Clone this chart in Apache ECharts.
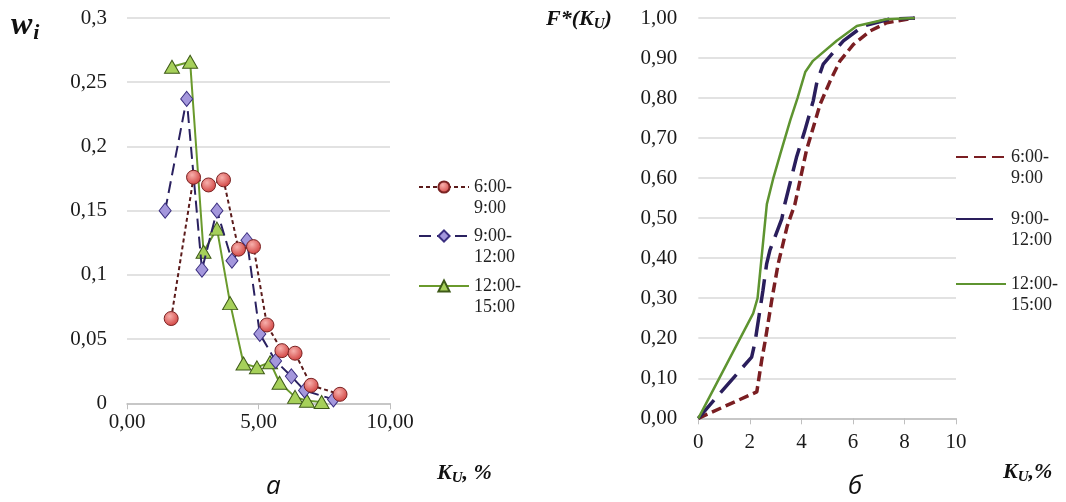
<!DOCTYPE html>
<html><head><meta charset="utf-8">
<script src="https://cdn.jsdelivr.net/npm/echarts@6/dist/echarts.min.js"></script>
<style>html,body{margin:0;padding:0;background:#fff}#c{width:1066px;height:502px}</style>
</head><body><div id="c"></div>
<script>
// ---- Data: left chart (relative frequencies w_i vs K_U, %) ----
const seriesNames = ['6:00-9:00', '9:00-12:00', '12:00-15:00'];
const legendLabels = ['6:00-\n9:00', '9:00-\n12:00', '12:00-\n15:00'];

const leftX_6_9 = [1.68, 2.53, 3.10, 3.67, 4.24, 4.81, 5.32, 5.89, 6.39, 7.00, 8.10];
const leftY_6_9 = [0.066, 0.176, 0.170, 0.174, 0.120, 0.122, 0.061, 0.041, 0.039, 0.014, 0.007];

const leftX_9_12 = [1.45, 2.27, 2.85, 3.42, 3.99, 4.56, 5.05, 5.65, 6.25, 6.75, 7.85];
const leftY_9_12 = [0.150, 0.237, 0.104, 0.150, 0.111, 0.127, 0.054, 0.033, 0.021, 0.010, 0.003];

const leftX_12_15 = [1.71, 2.40, 2.91, 3.42, 3.92, 4.43, 4.94, 5.44, 5.80, 6.39, 6.84, 7.40];
const leftY_12_15 = [0.262, 0.266, 0.118, 0.136, 0.078, 0.031, 0.028, 0.032, 0.016, 0.005, 0.002, 0.001];

// ---- Data: right chart (cumulative F*(K_U)) ----
const rightX_6_9 = [0, 2.27, 2.46, 2.60, 2.85, 3.10, 3.45, 3.75, 4.20, 4.73, 5.12, 5.50, 6.02, 6.68, 7.31, 8.40];
const rightY_6_9 = [0, 0.066, 0.145, 0.195, 0.295, 0.386, 0.480, 0.535, 0.670, 0.785, 0.843, 0.893, 0.934, 0.968, 0.988, 1.000];

const rightX_9_12 = [0, 0.78, 2.07, 2.20, 2.51, 2.65, 2.78, 3.24, 3.36, 3.81, 4.13, 4.46, 4.60, 4.85, 5.63, 6.40, 7.40, 8.40];
const rightY_9_12 = [0, 0.058, 0.153, 0.190, 0.320, 0.385, 0.420, 0.498, 0.536, 0.652, 0.718, 0.793, 0.839, 0.885, 0.943, 0.980, 0.997, 1.000];

const rightX_12_15 = [0, 2.13, 2.30, 2.66, 2.92, 3.18, 3.57, 3.85, 4.15, 4.45, 5.37, 6.15, 7.30, 8.40];
const rightY_12_15 = [0, 0.262, 0.300, 0.535, 0.602, 0.660, 0.745, 0.800, 0.865, 0.893, 0.943, 0.980, 0.997, 1.000];

// ---- Tick settings ----
const leftXTicks = {min: 0, max: 10, interval: 5};
const leftYTicks = {min: 0, max: 0.3, interval: 0.05};
const rightXTicks = {min: 0, max: 10, interval: 2};
const rightYTicks = {min: 0, max: 1, interval: 0.1};

function zip(xs, ys) { return xs.map((x, i) => [x, ys[i]]); }
const serif = 'Liberation Serif';
const comma = s => String(s).replace('.', ',');

const chart = echarts.init(document.getElementById('c'), null, {renderer: 'canvas'});

const labelStyle = {fontFamily: serif, fontSize: 21, color: '#1a1a1a'};
const gridColor = '#d9d9d9';
const axisColor = '#bfbfbf';

function legendAt(name, left, centerY, w, hideSymbol, dash) {
  const lg = {
    data: [name], left: left, top: centerY - 31.5, padding: 0,
    itemWidth: w, itemHeight: 14, itemGap: 0, orient: 'vertical', selectedMode: false,
    // leading empty line keeps the first text line level with the icon
    formatter: n => '\n' + legendLabels[seriesNames.indexOf(n.replace(/^R /, ''))],
    textStyle: {fontFamily: serif, fontSize: 18, lineHeight: 21, color: '#222'}
  };
  if (hideSymbol) lg.itemStyle = {opacity: 0};
  if (dash) lg.lineStyle = {type: dash};
  return lg;
}

const redFill = {type: 'radial', x: 0.4, y: 0.35, r: 0.7,
  colorStops: [{offset: 0, color: '#f7b0ac'}, {offset: 1, color: '#cf3c3a'}]};

const titleRich = {
  m: {fontFamily: serif, fontSize: 22, fontWeight: 'bold', fontStyle: 'italic', fill: '#111'},
  s: {fontFamily: serif, fontSize: 15, fontWeight: 'bold', fontStyle: 'italic', fill: '#111', padding: [10, 0, 0, 0]}
};

chart.setOption({
  animation: false,
  backgroundColor: '#fff',
  textStyle: {fontFamily: serif},
  grid: [
    {left: 127, top: 18, width: 263, height: 385.3},
    {left: 698.3, top: 18, width: 257.7, height: 400.3}
  ],
  xAxis: [
    {type: 'value', gridIndex: 0, ...leftXTicks,
     axisLine: {lineStyle: {color: axisColor, width: 1.5}},
     axisTick: {show: true, length: 6, lineStyle: {color: axisColor}},
     splitLine: {show: false},
     axisLabel: {...labelStyle, margin: 9, formatter: v => comma(v.toFixed(2))}},
    {type: 'value', gridIndex: 1, ...rightXTicks,
     axisLine: {lineStyle: {color: axisColor, width: 1.5}},
     axisTick: {show: true, length: 6, lineStyle: {color: axisColor}},
     splitLine: {show: false},
     axisLabel: {...labelStyle, margin: 14, formatter: v => String(v)}}
  ],
  yAxis: [
    {type: 'value', gridIndex: 0, ...leftYTicks,
     axisLine: {show: false}, axisTick: {show: false},
     splitLine: {lineStyle: {color: gridColor, width: 1.5}},
     axisLabel: {...labelStyle, margin: 20, formatter: v => comma(+v.toFixed(2))}},
    {type: 'value', gridIndex: 1, ...rightYTicks,
     axisLine: {show: false}, axisTick: {show: false},
     splitLine: {lineStyle: {color: gridColor, width: 1.5}},
     axisLabel: {...labelStyle, margin: 21, formatter: v => comma(v.toFixed(2))}}
  ],
  legend: [
    legendAt(seriesNames[0], 418, 187, 50, false),
    legendAt(seriesNames[1], 418, 236, 50, false),
    legendAt(seriesNames[2], 418, 286, 50, false),
    legendAt('R ' + seriesNames[0], 955, 157, 50, true, [12, 6]),
    legendAt('R ' + seriesNames[1], 955, 219, 50, true, [37, 20]),
    legendAt('R ' + seriesNames[2], 955, 284, 50, true)
  ],
  series: [
    {name: seriesNames[2], type: 'line', xAxisIndex: 0, yAxisIndex: 0,
     data: zip(leftX_12_15, leftY_12_15), symbol: 'triangle', symbolSize: [15, 13],
     lineStyle: {color: '#6a9a2c', width: 2},
     itemStyle: {color: '#a6d05a', borderColor: '#3e5a18', borderWidth: 1}, z: 2},
    {name: seriesNames[1], type: 'line', xAxisIndex: 0, yAxisIndex: 0,
     data: zip(leftX_9_12, leftY_9_12), symbol: 'diamond', symbolSize: [12, 15],
     lineStyle: {color: '#2a2160', width: 2, type: [12, 6]},
     itemStyle: {color: '#a497dc', borderColor: '#3b2f80', borderWidth: 1}, z: 3},
    {name: seriesNames[0], type: 'line', xAxisIndex: 0, yAxisIndex: 0,
     data: zip(leftX_6_9, leftY_6_9), symbol: 'circle', symbolSize: 14,
     lineStyle: {color: '#5b1b1b', width: 2, type: [4, 3]},
     itemStyle: {color: redFill, borderColor: '#7a2323', borderWidth: 1}, z: 4},

    {name: 'R ' + seriesNames[0], type: 'line', xAxisIndex: 1, yAxisIndex: 1,
     data: zip(rightX_6_9, rightY_6_9), symbol: 'none', showSymbol: false,
     lineStyle: {color: '#7a1e22', width: 3.5, type: [10, 5]}, itemStyle: {color: '#7a1e22'}},
    {name: 'R ' + seriesNames[1], type: 'line', xAxisIndex: 1, yAxisIndex: 1,
     data: zip(rightX_9_12, rightY_9_12), symbol: 'none', showSymbol: false,
     lineStyle: {color: '#2a1e5c', width: 3.5, type: [24, 10]}, itemStyle: {color: '#2a1e5c'}},
    {name: 'R ' + seriesNames[2], type: 'line', xAxisIndex: 1, yAxisIndex: 1,
     data: zip(rightX_12_15, rightY_12_15), symbol: 'none', showSymbol: false,
     lineStyle: {color: '#5e9430', width: 2.5}, itemStyle: {color: '#5e9430'}}
  ],
  graphic: [
    {type: 'text', left: 11, top: 10, style: {
      text: '{m|w}{s|i}',
      rich: {
        m: {fontFamily: serif, fontSize: 32, fontWeight: 'bold', fontStyle: 'italic', fill: '#111'},
        s: {fontFamily: serif, fontSize: 22, fontWeight: 'bold', fontStyle: 'italic', fill: '#111', padding: [14, 0, 0, 1]}
      }}},
    {type: 'text', left: 437, top: 462, style: {text: '{m|K}{s|U}{m|, %}', rich: titleRich}},
    {type: 'text', left: 546, top: 8, style: {text: '{m|F*(K}{s|U}{m|)}', rich: titleRich}},
    {type: 'text', left: 1003, top: 461, style: {text: '{m|K}{s|U}{m|,%}', rich: titleRich}},
    {type: 'text', left: 266, top: 474, style: {
      text: 'а', fontFamily: 'Open Sans', fontSize: 26, fontStyle: 'italic', fill: '#111'}},
    {type: 'text', left: 848, top: 474, style: {
      text: 'б', fontFamily: 'Open Sans', fontSize: 26, fontStyle: 'italic', fill: '#111'}}
  ]
});
</script></body></html>
